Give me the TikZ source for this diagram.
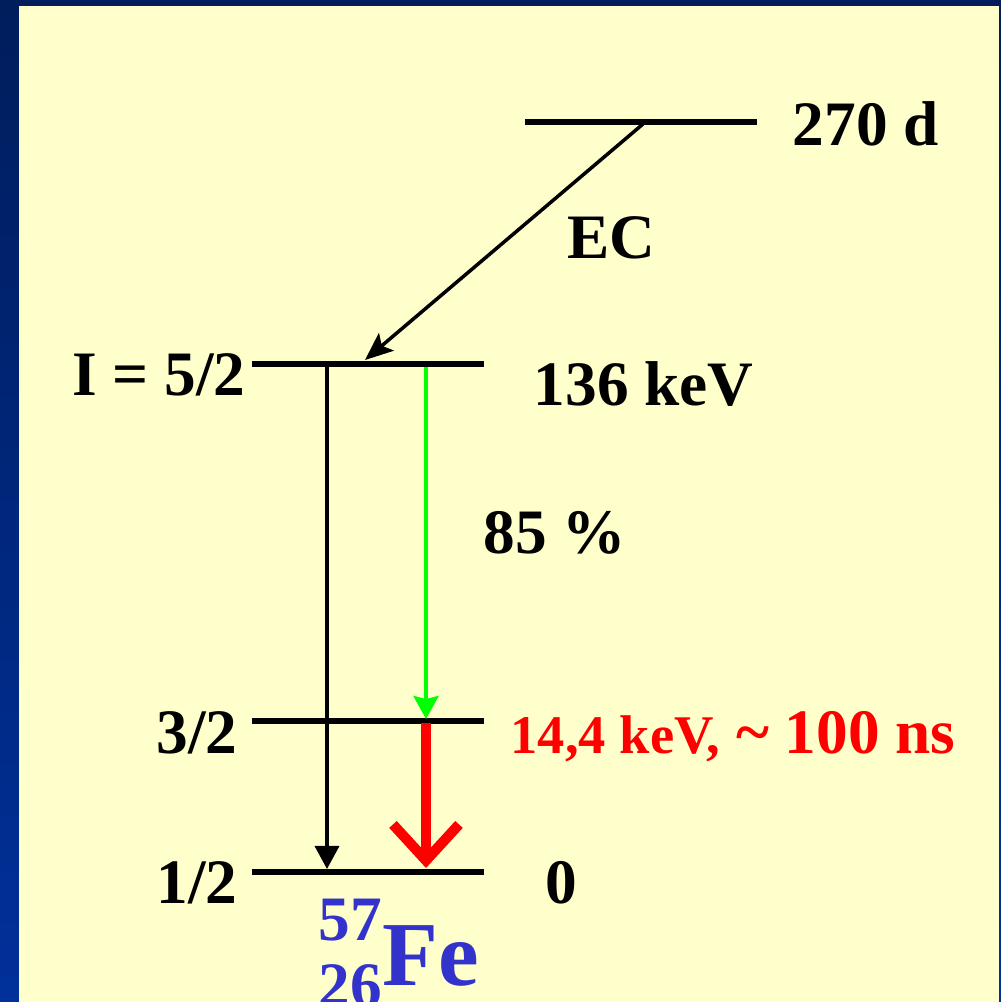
\documentclass[tikz,border=0pt]{standalone}
\usepackage{fontspec}
\setmainfont{Liberation Serif}
\usepackage{tikz}
\usetikzlibrary{arrows.meta,positioning,calc}
\definecolor{slideyellow}{HTML}{FFFFCC}
\definecolor{navytop}{HTML}{001D5C}
\definecolor{navybottom}{HTML}{00309A}
\definecolor{fegreen}{HTML}{00FF00}
\definecolor{fered}{HTML}{FF0000}
\definecolor{feblue}{HTML}{3333CC}
\newcommand{\bigtext}{\fontsize{18pt}{20pt}\selectfont\bfseries}

\begin{document}
\begin{tikzpicture}[
    x=0.01cm, y=-0.01cm,
    level/.style={
        black,
        line width=1.45pt
    },
    label/.style={
        inner sep=0pt,
        font=\bigtext
    },
    ecaux/.style={
        black,
        line width=1pt,
        -{Stealth[length=0.28cm, width=0.23cm, inset=0.06cm]}
    },
    blackaux/.style={
        black,
        line width=1pt,
        -{Triangle[length=0.23cm, width=0.24cm]}
    },
    greenaux/.style={
        fegreen,
        line width=1.1pt,
        -{Stealth[length=0.23cm, width=0.25cm, inset=0.03cm]}
    },
    redaux/.style={
        fered,
        line width=2.9pt,
        -{Straight Barb[length=0.36cm, width=0.66cm]}
    }
]

% slide background
\shade[top color=navytop, bottom color=navybottom] (0,0) rectangle (1001,1002);
\fill[slideyellow] (19,6) rectangle (999,1002);
\useasboundingbox (0,0) rectangle (1001,1002);

% level end points
\coordinate (top0) at (525,122);
\coordinate (top1) at (757,122);
\coordinate (l52a) at (252,364);
\coordinate (l52b) at (484,364);
\coordinate (l32a) at (252,721);
\coordinate (l32b) at (484,721);
\coordinate (l12a) at (252,872);
\coordinate (l12b) at (484,872);

% levels
\draw[level] (top0) -- (top1);
\draw[level] (l52a) -- (l52b);
\draw[level] (l32a) -- (l32b);
\draw[level] (l12a) -- (l12b);

% transition end points
\coordinate (ec0) at (643,124);
\coordinate (ec1) at (365,360);
\coordinate (gm0) at (327,366);
\coordinate (gm1) at (327,869);
\coordinate (gr0) at (426,367);
\coordinate (gr1) at (426,719);
\coordinate (md0) at (426,723);
\coordinate (md1) at (426,868);

% transitions
\draw[ecaux] (ec0) -- (ec1);
\draw[blackaux] (gm0) -- (gm1);
\draw[greenaux] (gr0) -- (gr1);
\draw[redaux] (md0) -- (md1);

% labels
\node[label, anchor=base west] (halflife) at (792,145) {270 d};
\node[label, anchor=base west] (ec) at (567,258) {EC};
\node[label, anchor=base east] (spin52) at (246,395) {I = 5/2};
\node[label, anchor=base west] (e136) at (533,405) {136 keV};
\node[label, anchor=base west] (branch) at (483,553) {85 \%};
\node[label, anchor=base east] (spin32) at (238,753) {3/2};
\node[label, anchor=base west, text=fered] (e14) at (510,753)
{{\fontsize{15.5pt}{17pt}\selectfont 14,4 keV,} \textasciitilde{} 100 ns};
\node[label, anchor=base east] (spin12) at (238,903) {1/2};
\node[label, anchor=base west] (ground) at (545,903) {0};

% nucleus
\node[label, anchor=base west, text=feblue] (mass) at (318,940) {57};
\node[label, anchor=base west, text=feblue] (charge) at (318,1006) {26};
\node[label, anchor=base west, text=feblue, font=\fontsize{26pt}{28pt}\selectfont\bfseries] (fe) at (382,985) {Fe};

\end{tikzpicture}
\end{document}
